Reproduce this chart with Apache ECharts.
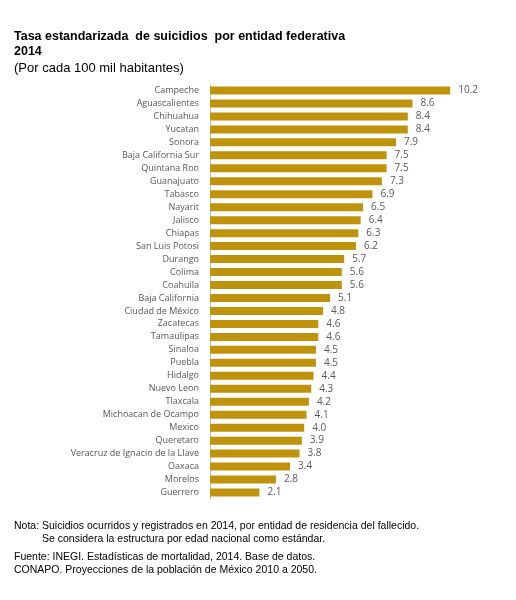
<!DOCTYPE html>
<html><head><meta charset="utf-8">
<script src="https://cdn.jsdelivr.net/npm/echarts@6/dist/echarts.min.js"></script>
<style>html,body{margin:0;padding:0;background:#fff}#c{width:516px;height:600px}</style>
</head><body><div id="c"></div>
<script>
const categories = ["Campeche","Aguascalientes","Chihuahua","Yucatan","Sonora","Baja California Sur","Quintana Roo","Guanajuato","Tabasco","Nayarit","Jalisco","Chiapas","San Luis Potosi","Durango","Colima","Coahuila","Baja California","Ciudad de México","Zacatecas","Tamaulipas","Sinaloa","Puebla","Hidalgo","Nuevo Leon","Tlaxcala","Michoacan de Ocampo","Mexico","Queretaro","Veracruz de Ignacio de la Llave","Oaxaca","Morelos","Guerrero"];
const values = [10.2,8.6,8.4,8.4,7.9,7.5,7.5,7.3,6.9,6.5,6.4,6.3,6.2,5.7,5.6,5.6,5.1,4.8,4.6,4.6,4.5,4.5,4.4,4.3,4.2,4.1,4.0,3.9,3.8,3.4,2.8,2.1];
const chart = echarts.init(document.getElementById('c'));
const txt = (t, x, y, size, weight) => ({type:'text', left:x, top:y, style:{text:t, font: (weight||'normal')+' '+size+'px "Liberation Sans", Arial, sans-serif', fill:'#000'}});
chart.setOption({
  animation:false,
  grid:{left:210, top:84, bottom:101, right:47, containLabel:false},
  xAxis:{type:'value', min:0, max:11, show:false},
  yAxis:{type:'category', data:categories, inverse:true,
    axisLine:{show:true, lineStyle:{color:'#BFBFBF', width:1}},
    axisTick:{show:false},
    axisLabel:{interval:0, color:'#595959', fontSize:9, fontFamily:'"Open Sans", sans-serif', margin:11}},
  series:[{type:'bar', data:values, barWidth:8, itemStyle:{color:'#C0930C'},
    label:{show:true, position:'right', distance:8, color:'#595959', fontSize:10, fontFamily:'"Open Sans", sans-serif',
      formatter:p=>p.value.toFixed(1)}}],
  graphic:[
    txt('Tasa estandarizada  de suicidios  por entidad federativa', 14, 30, 12.5, 'bold'),
    txt('2014', 14, 45, 12.5, 'bold'),
    txt('(Por cada 100 mil habitantes)', 14, 62, 13),
    txt('Nota: Suicidios ocurridos y registrados en 2014, por entidad de residencia del fallecido.', 14, 521, 10.5),
    txt('Se considera la estructura por edad nacional como estándar.', 42, 534, 10.5),
    txt('Fuente: INEGI. Estadísticas de mortalidad, 2014. Base de datos.', 14, 552, 10.5),
    txt('CONAPO. Proyecciones de la población de México 2010 a 2050.', 14, 565, 10.5)
  ]
});
</script></body></html>
